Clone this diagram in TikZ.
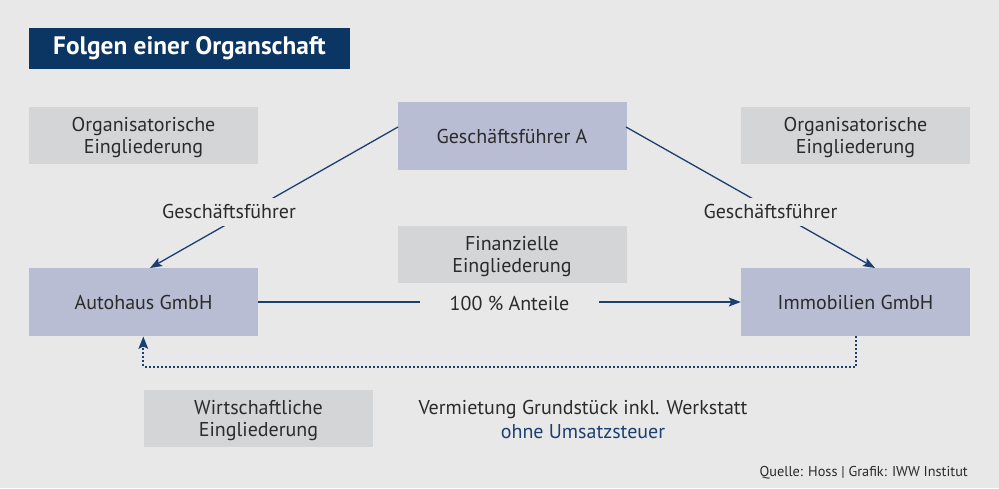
\documentclass[tikz,border=0pt]{standalone}
\usepackage{fontspec}
\setmainfont{PT Sans}
\usetikzlibrary{arrows.meta}
\definecolor{bg}{HTML}{E8E8E8}
\definecolor{navy}{HTML}{0B3562}
\definecolor{lineblue}{HTML}{1B4070}
\definecolor{boxgray}{HTML}{D4D5D7}
\definecolor{boxblue}{HTML}{B8BDD4}
\definecolor{txt}{HTML}{2B2B2B}
\begin{document}
\begin{tikzpicture}[x=1pt,y=-1pt,
  mainfont/.style={font=\fontsize{20}{22}\selectfont},
  graybox/.style={fill=boxgray,draw=none,minimum width=229pt,minimum height=57pt,align=center,mainfont,text=txt,inner sep=0pt,text depth=0pt},
  bluebox/.style={fill=boxblue,draw=none,minimum width=229pt,minimum height=68pt,align=center,mainfont,text=txt,inner sep=0pt},
  lbl/.style={fill=bg,mainfont,text=txt,inner xsep=5pt,inner ysep=0pt,minimum height=28pt},
  conn/.style={draw=lineblue,line width=1.3pt},
  tip/.style={-{Stealth[length=12pt,width=9pt,inset=2.5pt]}},
  dots/.style={draw=lineblue,line width=2pt,dash pattern=on 2pt off 2pt}
]
\useasboundingbox[fill=bg] (0,0) rectangle (999,488);
\node[fill=navy,text=white,minimum width=321pt,minimum height=41pt,inner sep=0pt,font=\fontsize{25.3}{28}\selectfont\bfseries] (title) at (189.5,48.5) {Folgen einer Organschaft};
\node[graybox] (orgl) at (143.5,135.5) {Organisatorische\\Eingliederung};
\node[graybox] (orgr) at (855.5,135.5) {Organisatorische\\Eingliederung};
\node[bluebox] (gfa) at (512,136) {Geschäftsführer A};
\node[graybox] (fin) at (512,254.5) {Finanzielle\\Eingliederung};
\node[bluebox] (auto) at (143.5,302) {Autohaus GmbH};
\node[bluebox] (immo) at (855.5,302) {Immobilien GmbH};
\node[graybox] (wirt) at (258.5,418.5) {Wirtschaftliche\\Eingliederung};
\coordinate (gl) at (398,127);
\coordinate (gr) at (626,127);
\coordinate (at) at (150,268);
\coordinate (it) at (875,268);
\draw[conn,tip] (gl) -- (at);
\draw[conn,tip] (gr) -- (it);
\draw[conn,tip] (auto.east) -- (immo.west);
\node[lbl] (lg1) at (229,211.5) {Geschäftsführer};
\node[lbl] (lg2) at (770.5,211.5) {Geschäftsführer};
\node[lbl,inner xsep=30pt] (lant) at (509.5,303.5) {100 \% Anteile};
\coordinate (ib) at (855.5,336);
\coordinate (ab) at (143.3,336.5);
\draw[dots] (ib) -- (855.5,367) -- (143.3,367) -- (143.3,346);
\draw[draw=none,fill=lineblue] (ab) -- (148.3,349) -- (143.3,346.5) -- (138.3,349) -- cycle;
\node[mainfont,text=txt,anchor=base,inner sep=0pt] (verm) at (583,414) {Vermietung Grundstück inkl. Werkstatt};
\node[mainfont,text=lineblue,anchor=base,inner sep=0pt] (ohne) at (583,438) {ohne Umsatzsteuer};
\node[font=\fontsize{14.3}{16}\selectfont,text=txt,anchor=base east,inner sep=0pt] (src) at (968,476.5) {Quelle: Hoss | Grafik: IWW Institut};
\end{tikzpicture}
\end{document}
